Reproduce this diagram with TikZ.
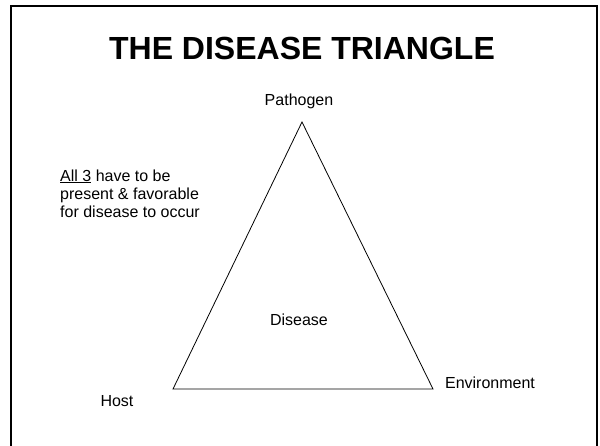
\documentclass[tikz,border=0pt]{standalone}
\usepackage{fontspec}
\setmainfont{Liberation Sans}
\usetikzlibrary{positioning}
\tikzset{
  txt/.style={font=\fontsize{16}{18}\selectfont, inner sep=0pt},
  headtxt/.style={font=\fontsize{32}{36}\selectfont\bfseries, inner sep=0pt},
  frame/.style={line width=2pt},
  side/.style={line width=0.8pt, line join=miter}
}

\begin{document}
\begin{tikzpicture}[x=1pt,y=-1pt]
  \useasboundingbox (0,0) rectangle (600,445);
  \draw[frame] (11,460) -- (11,6) -- (597,6) -- (597,460);
  \node[headtxt] (title) at (302,48) {THE DISEASE TRIANGLE};
  % corners of the triangle
  \coordinate (top) at (302,122);
  \coordinate (left) at (173,389);
  \coordinate (right) at (433,389);
  \draw[side] (top) -- (left) -- (right) -- cycle;
  \node[txt] (pathogen) at (299,101) {Pathogen};
  \node[txt] (host) at (117,401) {Host};
  \node[txt] (environment) at (490,383) {Environment};
  \node[txt] (disease) at (299,320) {Disease};
  \node[txt, anchor=base west, align=left] (note) at (60,217)
    {\underline{All 3} have to be\\present \& favorable\\for disease to occur};
\end{tikzpicture}
\end{document}
